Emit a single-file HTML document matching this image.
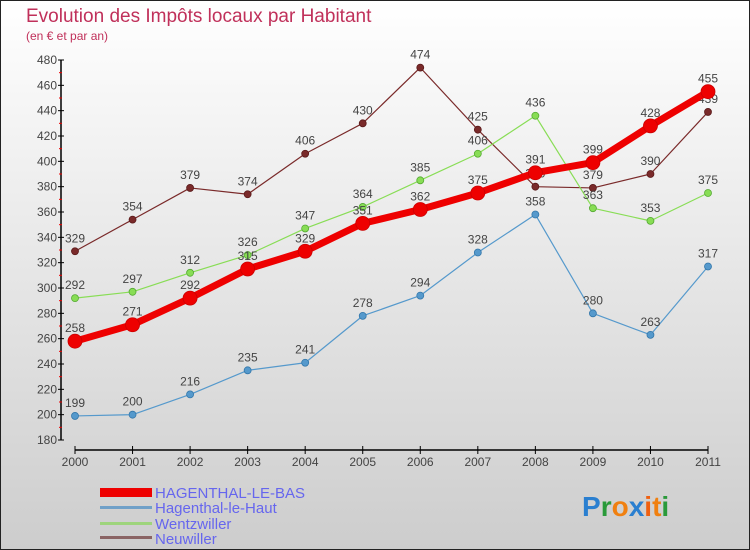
<!DOCTYPE html>
<html><head><meta charset="utf-8"><style>
body{margin:0}
#wrap{width:750px;height:550px;position:relative;overflow:hidden;font-family:"Liberation Sans",sans-serif;}
svg text{font-family:"Liberation Sans",sans-serif;}
</style></head><body>
<div id="wrap">
<svg id="c" width="750" height="550" xmlns="http://www.w3.org/2000/svg">
<defs><linearGradient id="bg" x1="0" y1="0" x2="0" y2="1"><stop offset="0" stop-color="#ffffff"/><stop offset="1" stop-color="#cdcdcd"/></linearGradient></defs>
<rect x="0.5" y="0.5" width="749" height="549" fill="url(#bg)" stroke="#222"/>
<text x="26" y="22" font-size="19" fill="#c0305a">Evolution des Impôts locaux par Habitant</text>
<text x="26" y="40" font-size="12" fill="#c0305a">(en € et par an)</text>
<g id="axes"></g><g id="series"></g>
<g>
<rect x="100" y="488" width="52" height="9" fill="#ee0000"/>
<text x="155" y="498" font-size="15" fill="#6666ee">HAGENTHAL-LE-BAS</text>
<rect x="100" y="506" width="52" height="3" fill="#6fa0c8"/>
<text x="155" y="513" font-size="15" fill="#6666ee">Hagenthal-le-Haut</text>
<rect x="100" y="522" width="52" height="3" fill="#9ed47c"/>
<text x="155" y="529" font-size="15" fill="#6666ee">Wentzwiller</text>
<rect x="100" y="536" width="52" height="3" fill="#8a6464"/>
<text x="155" y="544" font-size="15" fill="#6666ee">Neuwiller</text>
</g>
<text x="582" y="516" font-size="28" font-weight="bold"><tspan fill="#2a7fd0">P</tspan><tspan fill="#2a9a3a">r</tspan><tspan fill="#f08010">o</tspan><tspan fill="#2a7fd0">x</tspan><tspan fill="#f06010">i</tspan><tspan fill="#f08010">t</tspan><tspan fill="#2a9a3a">i</tspan></text>
</svg></div>
<script>
const years=["2000","2001","2002","2003","2004","2005","2006","2007","2008","2009","2010","2011"];
const yTicks=[180,200,220,240,260,280,300,320,340,360,380,400,420,440,460,480];
const hagBas=[258,271,292,315,329,351,362,375,391,399,428,455];
const hagHaut=[199,200,216,235,241,278,294,328,358,280,263,317];
const wentz=[292,297,312,326,347,364,385,406,436,363,353,375];
const neuw=[329,354,379,374,406,430,474,425,380,379,390,439];
const NS="http://www.w3.org/2000/svg";
function X(i){return 75+i*(633/11);}
function Y(v){return 60+(480-v)*(380/300);}
function mk(t,a,p){const e=document.createElementNS(NS,t);for(const k in a)e.setAttribute(k,a[k]);p.appendChild(e);return e;}
const ax=document.getElementById('axes');
let e=mk('line',{x1:61,y1:Y(480),x2:61,y2:Y(180),stroke:'#000','stroke-width':1.5},ax);


e=mk('line',{x1:X(0),y1:450,x2:X(11),y2:450,stroke:'#000','stroke-width':1.5},ax);


yTicks.forEach((v,i)=>{
 mk('line',{x1:58,y1:Y(v),x2:64,y2:Y(v),stroke:'#000'},ax);
 if(i<yTicks.length-1) mk('line',{x1:59,y1:Y(v+10),x2:62,y2:Y(v+10),stroke:'#e00'},ax);
 const t=mk('text',{x:57,y:Y(v)+4,'font-size':12,'text-anchor':'end',fill:'#444'},ax);t.textContent=v;
 
 
});
years.forEach((y,i)=>{
 mk('line',{x1:X(i),y1:446,x2:X(i),y2:454,stroke:'#000'},ax);
 const t=mk('text',{x:X(i),y:466,'font-size':12,'text-anchor':'middle',fill:'#444'},ax);t.textContent=y;
 
 
});
const sg=document.getElementById('series');
function draw(vals,color,w,r,name,dark){
 const g=mk('g',{},sg);
 
 
 mk('polyline',{points:vals.map((v,i)=>X(i)+','+Y(v)).join(' '),fill:'none',stroke:color,'stroke-width':w,'stroke-linejoin':'round'},g);
 vals.forEach((v,i)=>{
  const c=mk('circle',{cx:X(i),cy:Y(v),r:r,fill:color,stroke:dark,'stroke-width':0.8},g);
  
  
  const t=mk('text',{x:X(i),y:Y(v)-9,'font-size':12,'text-anchor':'middle',fill:'#444'},g);t.textContent=v;
  
  
 });
}
draw(neuw,'#7a2a2a',1.2,3.5,'neuwiller','#5a1a1a');
draw(wentz,'#88dd55',1.2,3.5,'wentzwiller','#55aa33');
draw(hagHaut,'#5599cc',1.2,3.5,'hagenthal-le-haut','#3377aa');
draw(hagBas,'#ee0000',7,7,'hagenthal-le-bas','#cc0000');
</script>
</body></html>
